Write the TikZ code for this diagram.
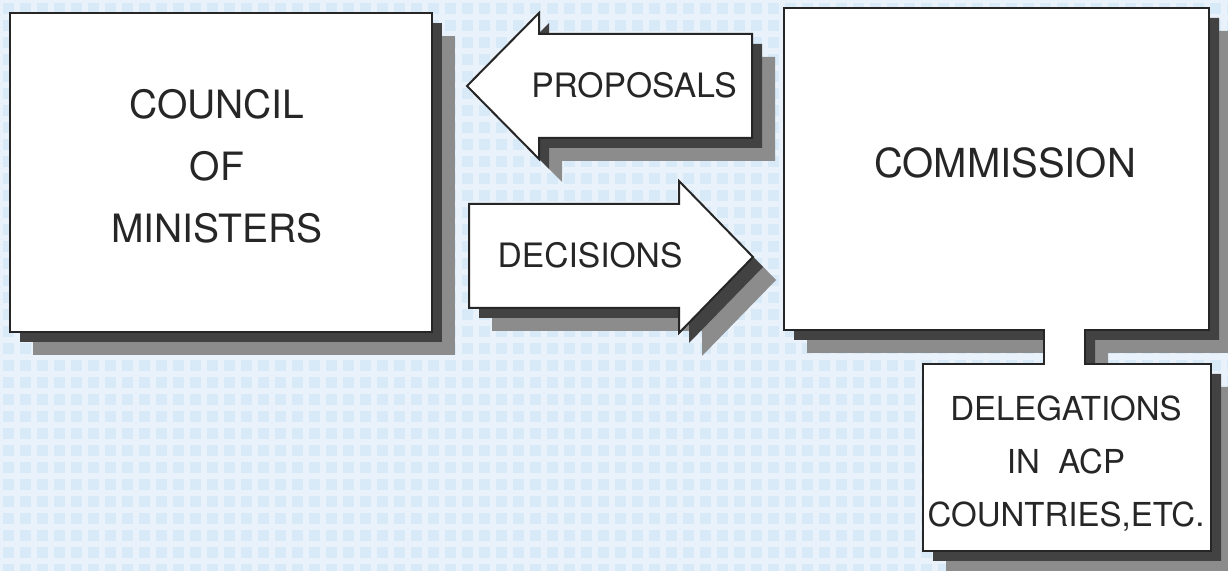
\documentclass[tikz,border=0pt]{standalone}
\usepackage{fontspec}
\setmainfont{TeX Gyre Heros}
\definecolor{gingham}{HTML}{D8E9F8}
\begin{document}
\begin{tikzpicture}[x=0.5pt,y=-0.5pt,
	farshadow/.style={fill=black!45},
	nearshadow/.style={fill=black!74},
	panel/.style={fill=white,draw=black!85,line width=1pt},
	boxtext/.style={text=black!85,align=center,inner sep=0pt}]
	\useasboundingbox (0,0) rectangle (1228,571);
	\clip (0,0) rectangle (1228,571);
	\fill[gingham] (0,0) rectangle (1228,571);
	\draw[white,opacity=.45,line width=3pt,step=8.5pt] (0,571) grid (1228,0);
	\foreach \d/\s in {23/farshadow,10/nearshadow,0/panel}{
	\begin{scope}[shift={(\d,\d)}]
	\path[\s] (10,13) rectangle (432,332);
	\path[\s] (467,86) -- (539,13) -- (539,34) -- (752,34) -- (752,138) -- (539,138) -- (539,159) -- cycle;
	\path[\s] (753,257) -- (679,181) -- (679,204) -- (469,204) -- (469,308) -- (679,308) -- (679,333) -- cycle;
	\path[\s] (784,8) -- (1209,8) -- (1209,330) -- (1085,330) -- (1085,364) -- (1211,364) -- (1211,551) -- (923,551) -- (923,364) -- (1044,364) -- (1044,330) -- (784,330) -- cycle;
	\end{scope}
	}
	\node[boxtext,font=\fontsize{19.5}{31}\selectfont] (council) at (217,166) {COUNCIL\\OF\\MINISTERS};
	\node[boxtext,font=\fontsize{16.8}{20}\selectfont] (proposals) at (634,85) {PROPOSALS};
	\node[boxtext,font=\fontsize{16.8}{20}\selectfont] (decisions) at (590,255) {DECISIONS};
	\node[boxtext,font=\fontsize{20}{24}\selectfont] (commission) at (1005,163) {COMMISSION};
	\node[boxtext,font=\fontsize{16.5}{26.5}\selectfont] (delegations) at (1066,464) {DELEGATIONS\\IN\ \ ACP\\COUNTRIES,ETC.};
\end{tikzpicture}
\end{document}
